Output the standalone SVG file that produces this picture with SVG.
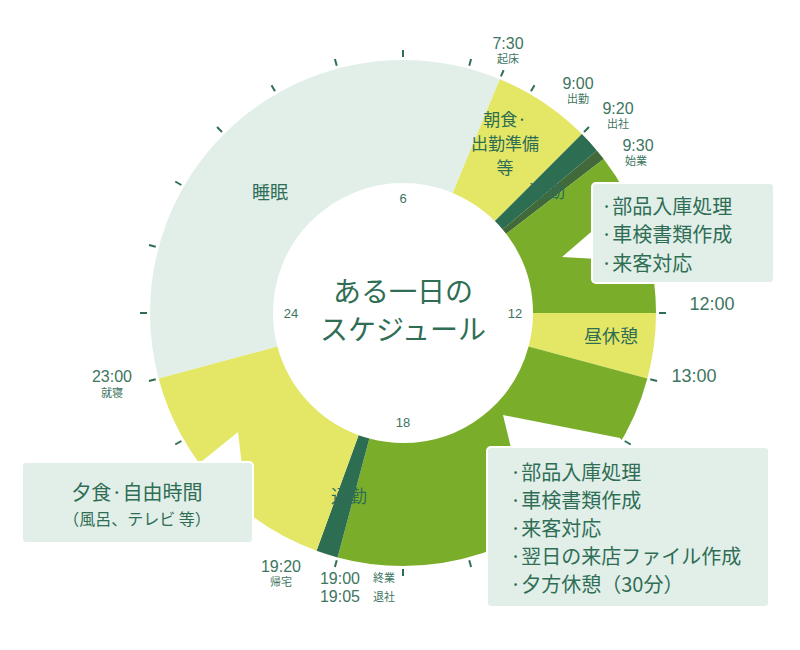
<svg xmlns="http://www.w3.org/2000/svg" width="800" height="650" viewBox="0 0 800 650">
<style>
.seg{fill:none;stroke-width:123}
.t{font-family:"Noto Sans CJK JP","Liberation Sans",sans-serif;fill:#2f6e55}
.lbl{font-family:"Liberation Sans","Noto Sans CJK JP",sans-serif;fill:#3d7560;text-anchor:middle}
.tk{stroke:#2f6e55;stroke-width:2}
.box{fill:#e2efe9;stroke:#fff;stroke-width:2}
</style>
<rect width="800" height="650" fill="#fff"/>
<g id="ring" transform="rotate(0 403 313)">
<circle class="seg" cx="403" cy="313" r="191.5" pathLength="1440" stroke="#e2efe9" stroke-dasharray="510 1440" stroke-dashoffset="-660"/>
<circle class="seg" cx="403" cy="313" r="191.5" pathLength="1440" stroke="#e4e766" stroke-dasharray="90 1440" stroke-dashoffset="-1170"/>
<circle class="seg" cx="403" cy="313" r="191.5" pathLength="1440" stroke="#2d6e52" stroke-dasharray="20 1440" stroke-dashoffset="-1260"/>
<circle class="seg" cx="403" cy="313" r="191.5" pathLength="1440" stroke="#41693a" stroke-dasharray="10 1440" stroke-dashoffset="-1280"/>
<circle class="seg" cx="403" cy="313" r="191.5" pathLength="1440" stroke="#7aae2a" stroke-dasharray="150 1440" stroke-dashoffset="-1290"/>
<circle class="seg" cx="403" cy="313" r="191.5" pathLength="1440" stroke="#e4e766" stroke-dasharray="60 1440" stroke-dashoffset="0"/>
<circle class="seg" cx="403" cy="313" r="191.5" pathLength="1440" stroke="#7aae2a" stroke-dasharray="360 1440" stroke-dashoffset="-60"/>
<circle class="seg" cx="403" cy="313" r="191.5" pathLength="1440" stroke="#2d6e52" stroke-dasharray="20 1440" stroke-dashoffset="-420"/>
<circle class="seg" cx="403" cy="313" r="191.5" pathLength="1440" stroke="#e4e766" stroke-dasharray="220 1440" stroke-dashoffset="-440"/>
</g>
<g id="ticks">
<line class="tk" x1="403" y1="50" x2="403" y2="57" transform="rotate(0 403 313)"/>
<line class="tk" x1="403" y1="50" x2="403" y2="57" transform="rotate(15 403 313)"/>
<line class="tk" x1="403" y1="50" x2="403" y2="57" transform="rotate(22.5 403 313)"/>
<line class="tk" x1="403" y1="50" x2="403" y2="57" transform="rotate(30 403 313)"/>
<line class="tk" x1="403" y1="50" x2="403" y2="57" transform="rotate(45 403 313)"/>
<line class="tk" x1="403" y1="50" x2="403" y2="57" transform="rotate(90 403 313)"/>
<line class="tk" x1="403" y1="50" x2="403" y2="57" transform="rotate(105 403 313)"/>
<line class="tk" x1="403" y1="50" x2="403" y2="57" transform="rotate(120 403 313)"/>
<line class="tk" x1="403" y1="50" x2="403" y2="57" transform="rotate(150 403 313)"/>
<line class="tk" x1="403" y1="50" x2="403" y2="57" transform="rotate(165 403 313)"/>
<line class="tk" x1="403" y1="50" x2="403" y2="57" transform="rotate(180 403 313)"/>
<line class="tk" x1="403" y1="50" x2="403" y2="57" transform="rotate(195 403 313)"/>
<line class="tk" x1="403" y1="50" x2="403" y2="57" transform="rotate(240 403 313)"/>
<line class="tk" x1="403" y1="50" x2="403" y2="57" transform="rotate(255 403 313)"/>
<line class="tk" x1="403" y1="50" x2="403" y2="57" transform="rotate(270 403 313)"/>
<line class="tk" x1="403" y1="50" x2="403" y2="57" transform="rotate(285 403 313)"/>
<line class="tk" x1="403" y1="50" x2="403" y2="57" transform="rotate(300 403 313)"/>
<line class="tk" x1="403" y1="50" x2="403" y2="57" transform="rotate(315 403 313)"/>
<line class="tk" x1="403" y1="50" x2="403" y2="57" transform="rotate(330 403 313)"/>
<line class="tk" x1="403" y1="50" x2="403" y2="57" transform="rotate(345 403 313)"/>
</g>
<g id="center">
<text class="t" x="403" y="302" font-size="28" text-anchor="middle" fill="#1e5e3a">ある一日の</text>
<text class="t" x="403" y="340" font-size="28" text-anchor="middle" fill="#1e5e3a">スケジュール</text>
<text class="lbl" x="403" y="203" font-size="13" fill="#1e5e3a">6</text>
<text class="lbl" x="515" y="318" font-size="13" fill="#1e5e3a">12</text>
<text class="lbl" x="403" y="427" font-size="13" fill="#1e5e3a">18</text>
<text class="lbl" x="291" y="318" font-size="13" fill="#1e5e3a">24</text>
</g>
<g id="segment-labels">
<text class="t" x="270" y="199" font-size="18" text-anchor="middle">睡眠</text>
<text class="t" x="505" y="126" font-size="17" text-anchor="middle">朝食·</text>
<text class="t" x="505" y="150" font-size="17" text-anchor="middle">出勤準備</text>
<text class="t" x="505" y="174" font-size="17" text-anchor="middle">等</text>
<text class="t" x="547" y="198" font-size="18" text-anchor="middle" fill="#fff">通勤</text>
<text class="t" x="611" y="343" font-size="18" text-anchor="middle">昼休憩</text>
<text class="t" x="349" y="503" font-size="18" text-anchor="middle" fill="#fff">通勤</text>
</g>
<g id="time-labels">
<text class="lbl" x="508" y="49" font-size="16">7:30</text><text class="lbl" x="508" y="63" font-size="11">起床</text>
<text class="lbl" x="578" y="89" font-size="16">9:00</text><text class="lbl" x="578" y="103" font-size="11">出勤</text>
<text class="lbl" x="618" y="114" font-size="16">9:20</text><text class="lbl" x="618" y="128" font-size="11">出社</text>
<text class="lbl" x="638" y="151" font-size="16">9:30</text><text class="lbl" x="636" y="165" font-size="11">始業</text>
<text class="lbl" x="712" y="310" font-size="18">12:00</text>
<text class="lbl" x="694" y="382" font-size="18">13:00</text>
<text class="lbl" x="112" y="382" font-size="16">23:00</text><text class="lbl" x="112" y="397" font-size="11">就寝</text>
<text class="lbl" x="281" y="572" font-size="16">19:20</text><text class="lbl" x="281" y="586" font-size="11">帰宅</text>
<text class="lbl" x="340" y="584" font-size="16">19:00</text><text class="lbl" x="384" y="582" font-size="11">終業</text>
<text class="lbl" x="340" y="602" font-size="16">19:05</text><text class="lbl" x="384" y="601" font-size="11">退社</text>
</g>
<g id="callout-1">
<polygon points="598,226 562,257 598,259" fill="#fff"/>
<rect class="box" x="592" y="183" width="182" height="100" rx="4"/>
<text class="t" x="601" y="214" font-size="20">·部品入庫処理</text>
<text class="t" x="601" y="242" font-size="20">·車検書類作成</text>
<text class="t" x="601" y="271" font-size="20">·来客対応</text>
</g>
<g id="callout-2">
<polygon points="503,415 512,452 632,452 620,438" fill="#fff"/>
<rect class="box" x="487" y="447" width="282" height="160" rx="4"/>
<text class="t" x="510" y="480" font-size="20">·部品入庫処理</text>
<text class="t" x="510" y="508" font-size="20">·車検書類作成</text>
<text class="t" x="510" y="536" font-size="20">·来客対応</text>
<text class="t" x="510" y="564" font-size="20">·翌日の来店ファイル作成</text>
<text class="t" x="510" y="592" font-size="20">·夕方休憩（30分）</text>
</g>
<g id="callout-3">
<polygon points="238,432 196,466 242,466" fill="#fff"/>
<rect class="box" x="22" y="462" width="231" height="81" rx="4"/>
<text class="t" x="137" y="500" font-size="20" text-anchor="middle">夕食·自由時間</text>
<text class="t" x="137" y="525" font-size="16" text-anchor="middle">（風呂、テレビ 等）</text>
</g>
</svg>
